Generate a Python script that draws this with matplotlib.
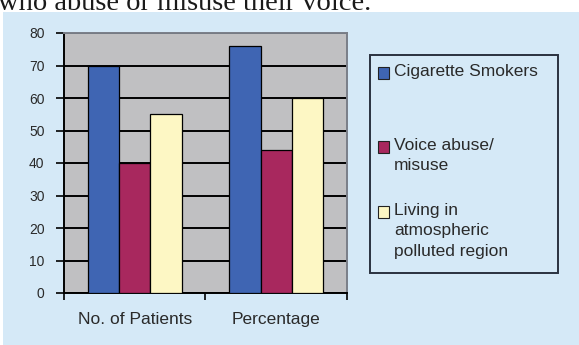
import numpy as np
import matplotlib
matplotlib.use("Agg")
import matplotlib.pyplot as plt
from matplotlib.patches import Rectangle

# data
categories = ["No. of Patients", "Percentage"]
series_names = ["Cigarette Smokers", "Voice abuse/\nmisuse", "Living in\natmospheric\npolluted region"]
smokers = [70, 76]
voice_abuse = [40, 44]
polluted = [55, 60]
y_ticks = list(range(0, 90, 10))

values = [smokers, voice_abuse, polluted]
colors = ["#3f65b3", "#a8285e", "#fdf7c4"]
BG = "#d5e9f7"
TXT = "#2a2a2a"

fig = plt.figure(figsize=(5.79, 3.45), dpi=100)
fig.patch.set_facecolor("white")

# light blue page background below the cropped heading
fig.patches.append(Rectangle((0.005, 0), 0.995, 1 - 12 / 345, transform=fig.transFigure,
                             facecolor=BG, edgecolor="none", zorder=-5))
fig.text(-0.004, 1 - 10 / 345, "who abuse or misuse their voice.", family="Liberation Serif",
         fontsize=20.5, color="#1a1a1a", va="baseline", ha="left", zorder=-4)

ax = fig.add_axes([64 / 579, 1 - 293 / 345, 283 / 579, 260 / 345])
ax.set_facecolor("#c0c0c2")

x = np.arange(len(categories)) + 0.5
width = 0.222
for i, (vals, col) in enumerate(zip(values, colors)):
    ax.bar(x + (i - 1) * width, vals, width, color=col, edgecolor="black", linewidth=0.9, zorder=3)

ax.set_xlim(0, 2)
ax.set_ylim(0, 80)
ax.set_yticks(y_ticks)
ax.set_yticklabels([str(t) for t in y_ticks], family="Liberation Sans", fontsize=10, color=TXT)
ax.yaxis.grid(True, color="black", linewidth=1.4, zorder=1)
ax.set_axisbelow(True)

# category boundaries as ticks, labels in the middle
ax.set_xticks([0, 1, 2])
ax.set_xticklabels([])
ax.set_xticks(x, minor=True)
ax.set_xticklabels(categories, minor=True, family="Liberation Sans", fontsize=12.5, color=TXT)
ax.tick_params(axis="x", which="major", direction="out", length=5, width=1.2)
ax.tick_params(axis="x", which="minor", length=0, pad=14)
ax.tick_params(axis="y", direction="out", length=6, width=1.2, pad=8)

for side in ["left", "bottom"]:
    ax.spines[side].set_color("black")
    ax.spines[side].set_linewidth(1.4)
for side in ["top", "right"]:
    ax.spines[side].set_color("#7a7f88")
    ax.spines[side].set_linewidth(1.4)

# legend box drawn by hand to keep the wide spacing of the original
fig.patches.append(Rectangle((370 / 579, 1 - 273 / 345), 188 / 579, 218 / 345, transform=fig.transFigure,
                             facecolor=BG, edgecolor="#2a3140", linewidth=1.4, zorder=2))
entry_y = [73, 147, 212]
for name, col, ey in zip(series_names, colors, entry_y):
    fig.patches.append(Rectangle((378 / 579, 1 - (ey + 6) / 345), 11 / 579, 12 / 345,
                                 transform=fig.transFigure, facecolor=col, edgecolor="#222222",
                                 linewidth=0.8, zorder=3))
    fig.text(394 / 579, 1 - (ey - 9) / 345, name, family="Liberation Sans", fontsize=12.5,
             color=TXT, va="top", ha="left", linespacing=1.45)

fig.savefig("out.png", dpi=100)
